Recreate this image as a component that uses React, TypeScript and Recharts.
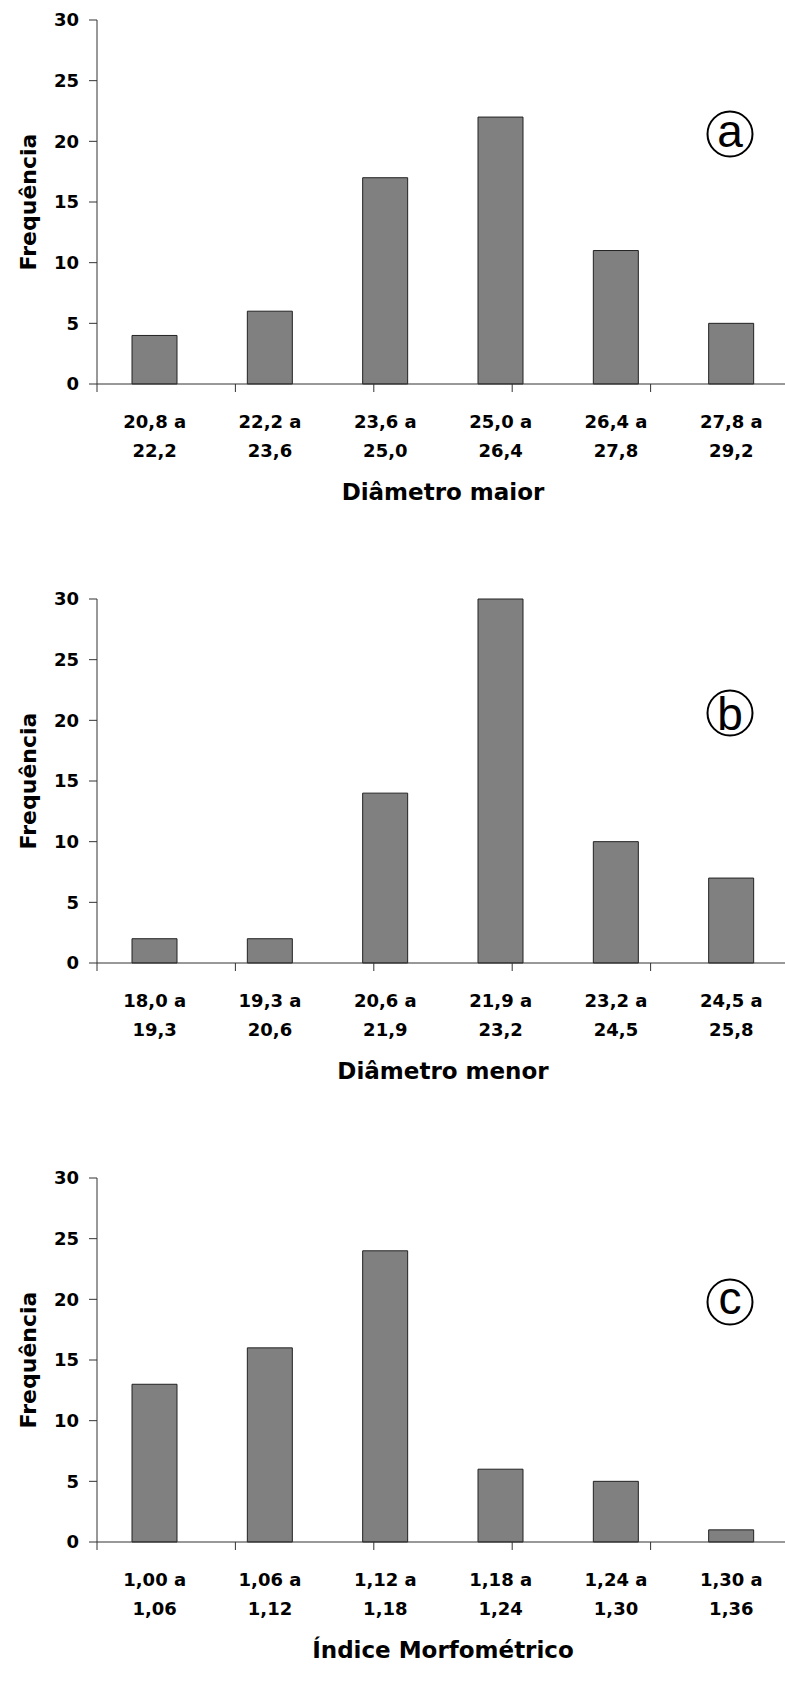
import { BarChart, Bar, XAxis, YAxis } from "recharts";

// class intervals (two-line tick labels) and frequencies
const maiorLabels = ["20,8 a\n22,2", "22,2 a\n23,6", "23,6 a\n25,0", "25,0 a\n26,4", "26,4 a\n27,8", "27,8 a\n29,2"];
const maiorFreq = [4, 6, 17, 22, 11, 5];

const menorLabels = ["18,0 a\n19,3", "19,3 a\n20,6", "20,6 a\n21,9", "21,9 a\n23,2", "23,2 a\n24,5", "24,5 a\n25,8"];
const menorFreq = [2, 2, 14, 30, 10, 7];

const indiceLabels = ["1,00 a\n1,06", "1,06 a\n1,12", "1,12 a\n1,18", "1,18 a\n1,24", "1,24 a\n1,30", "1,30 a\n1,36"];
const indiceFreq = [13, 16, 24, 6, 5, 1];

const yTicks = [0, 5, 10, 15, 20, 25, 30];
const yDomain = [0, 30];
const edgeTicks = [0, 1, 2, 3, 4, 5, 6];
const edgeDomain = [0, 6];

const FONT = "'DejaVu Sans', Arial, sans-serif";
const AXIS = "#333";
const axisStroke = { stroke: AXIS };
const yTickStyle = { fontFamily: FONT, fontWeight: "bold", fontSize: 18, fill: "#000" };
const chartMargin = { top: 20, right: 11, bottom: 64, left: 0 };

const CatTick = (props: any) => {
  const { x, y, payload } = props;
  const [l1, l2] = String(payload.value).split("\n");
  return (
    <text x={x} y={y} textAnchor="middle" fontFamily={FONT} fontWeight="bold" fontSize={18} fill="#000">
      <tspan x={x} dy={43}>{l1}</tspan>
      <tspan x={x} dy={28.5}>{l2}</tspan>
    </text>
  );
};

// edge axis keeps its tick lines but shows no labels
const NoLabel = () => <g />;

const XTitle = (props: any) => {
  const { viewBox, text } = props;
  const cx = viewBox.x + viewBox.width / 2;
  return (
    <text x={cx} y={viewBox.y + 115} textAnchor="middle" fontFamily={FONT} fontWeight="bold" fontSize={23} fill="#000">
      {text}
    </text>
  );
};

const YTitle = (props: any) => {
  const { viewBox } = props;
  const cy = viewBox.y + viewBox.height / 2;
  const x = viewBox.x + 28;
  return (
    <text
      x={x}
      y={cy}
      transform={`rotate(-90, ${x}, ${cy})`}
      textAnchor="middle"
      dominantBaseline="central"
      fontFamily={FONT}
      fontWeight="bold"
      fontSize={22}
      fill="#000"
    >
      Frequência
    </text>
  );
};

const catTick = <CatTick />;
const noLabel = <NoLabel />;
const yTitle = <YTitle />;

type PanelProps = {
  labels: string[];
  freq: number[];
  title: string;
  letter: string;
  letterY: number;
  letterDy: number;
};

const Panel = ({ labels, freq, title, letter, letterY, letterDy }: PanelProps) => {
  const data = labels.map((label, i) => ({ label, freq: freq[i] }));
  return (
    <div style={{ position: "relative", width: 785, height: 579, overflow: "hidden" }}>
      <BarChart width={800} height={579} data={data} margin={chartMargin}>
        {/* boundary ticks between classes, drawn on a numeric axis without labels */}
        <XAxis
          xAxisId={0}
          type="number"
          domain={edgeDomain}
          ticks={edgeTicks}
          interval={0}
          tick={noLabel}
          tickSize={8}
          height={1}
          axisLine={axisStroke}
          tickLine={axisStroke}
        />
        <XAxis
          xAxisId={1}
          dataKey="label"
          height={130}
          interval={0}
          axisLine={false}
          tickLine={false}
          tickSize={0}
          tickMargin={0}
          tick={catTick}
          label={<XTitle text={title} />}
        />
        <YAxis
          width={97}
          domain={yDomain}
          ticks={yTicks}
          interval={0}
          tickSize={8}
          tickMargin={10}
          axisLine={axisStroke}
          tickLine={axisStroke}
          tick={yTickStyle}
          label={yTitle}
        />
        <Bar
          xAxisId={1}
          dataKey="freq"
          fill="#808080"
          stroke="#222"
          strokeWidth={1}
          barSize={45}
          isAnimationActive={false}
        />
      </BarChart>
      <svg width={785} height={579} style={{ position: "absolute", left: 0, top: 0, pointerEvents: "none" }}>
        <circle cx={730} cy={letterY} r={22.5} fill="none" stroke="#000" strokeWidth={2} />
        <text x={730} y={letterY + letterDy} textAnchor="middle" fontFamily="'Liberation Sans', Arial, sans-serif" fontSize={46} fill="#000">
          {letter}
        </text>
      </svg>
    </div>
  );
};

export default function App() {
  return (
    <div style={{ position: "absolute", left: 0, top: 0, width: 785, height: 1702, overflow: "hidden", background: "#fff" }}>
      <Panel labels={maiorLabels} freq={maiorFreq} title="Diâmetro maior" letter="a" letterY={134} letterDy={13} />
      <Panel labels={menorLabels} freq={menorFreq} title="Diâmetro menor" letter="b" letterY={134} letterDy={17} />
      <Panel labels={indiceLabels} freq={indiceFreq} title="Índice Morfométrico" letter="c" letterY={144} letterDy={12} />
    </div>
  );
}
